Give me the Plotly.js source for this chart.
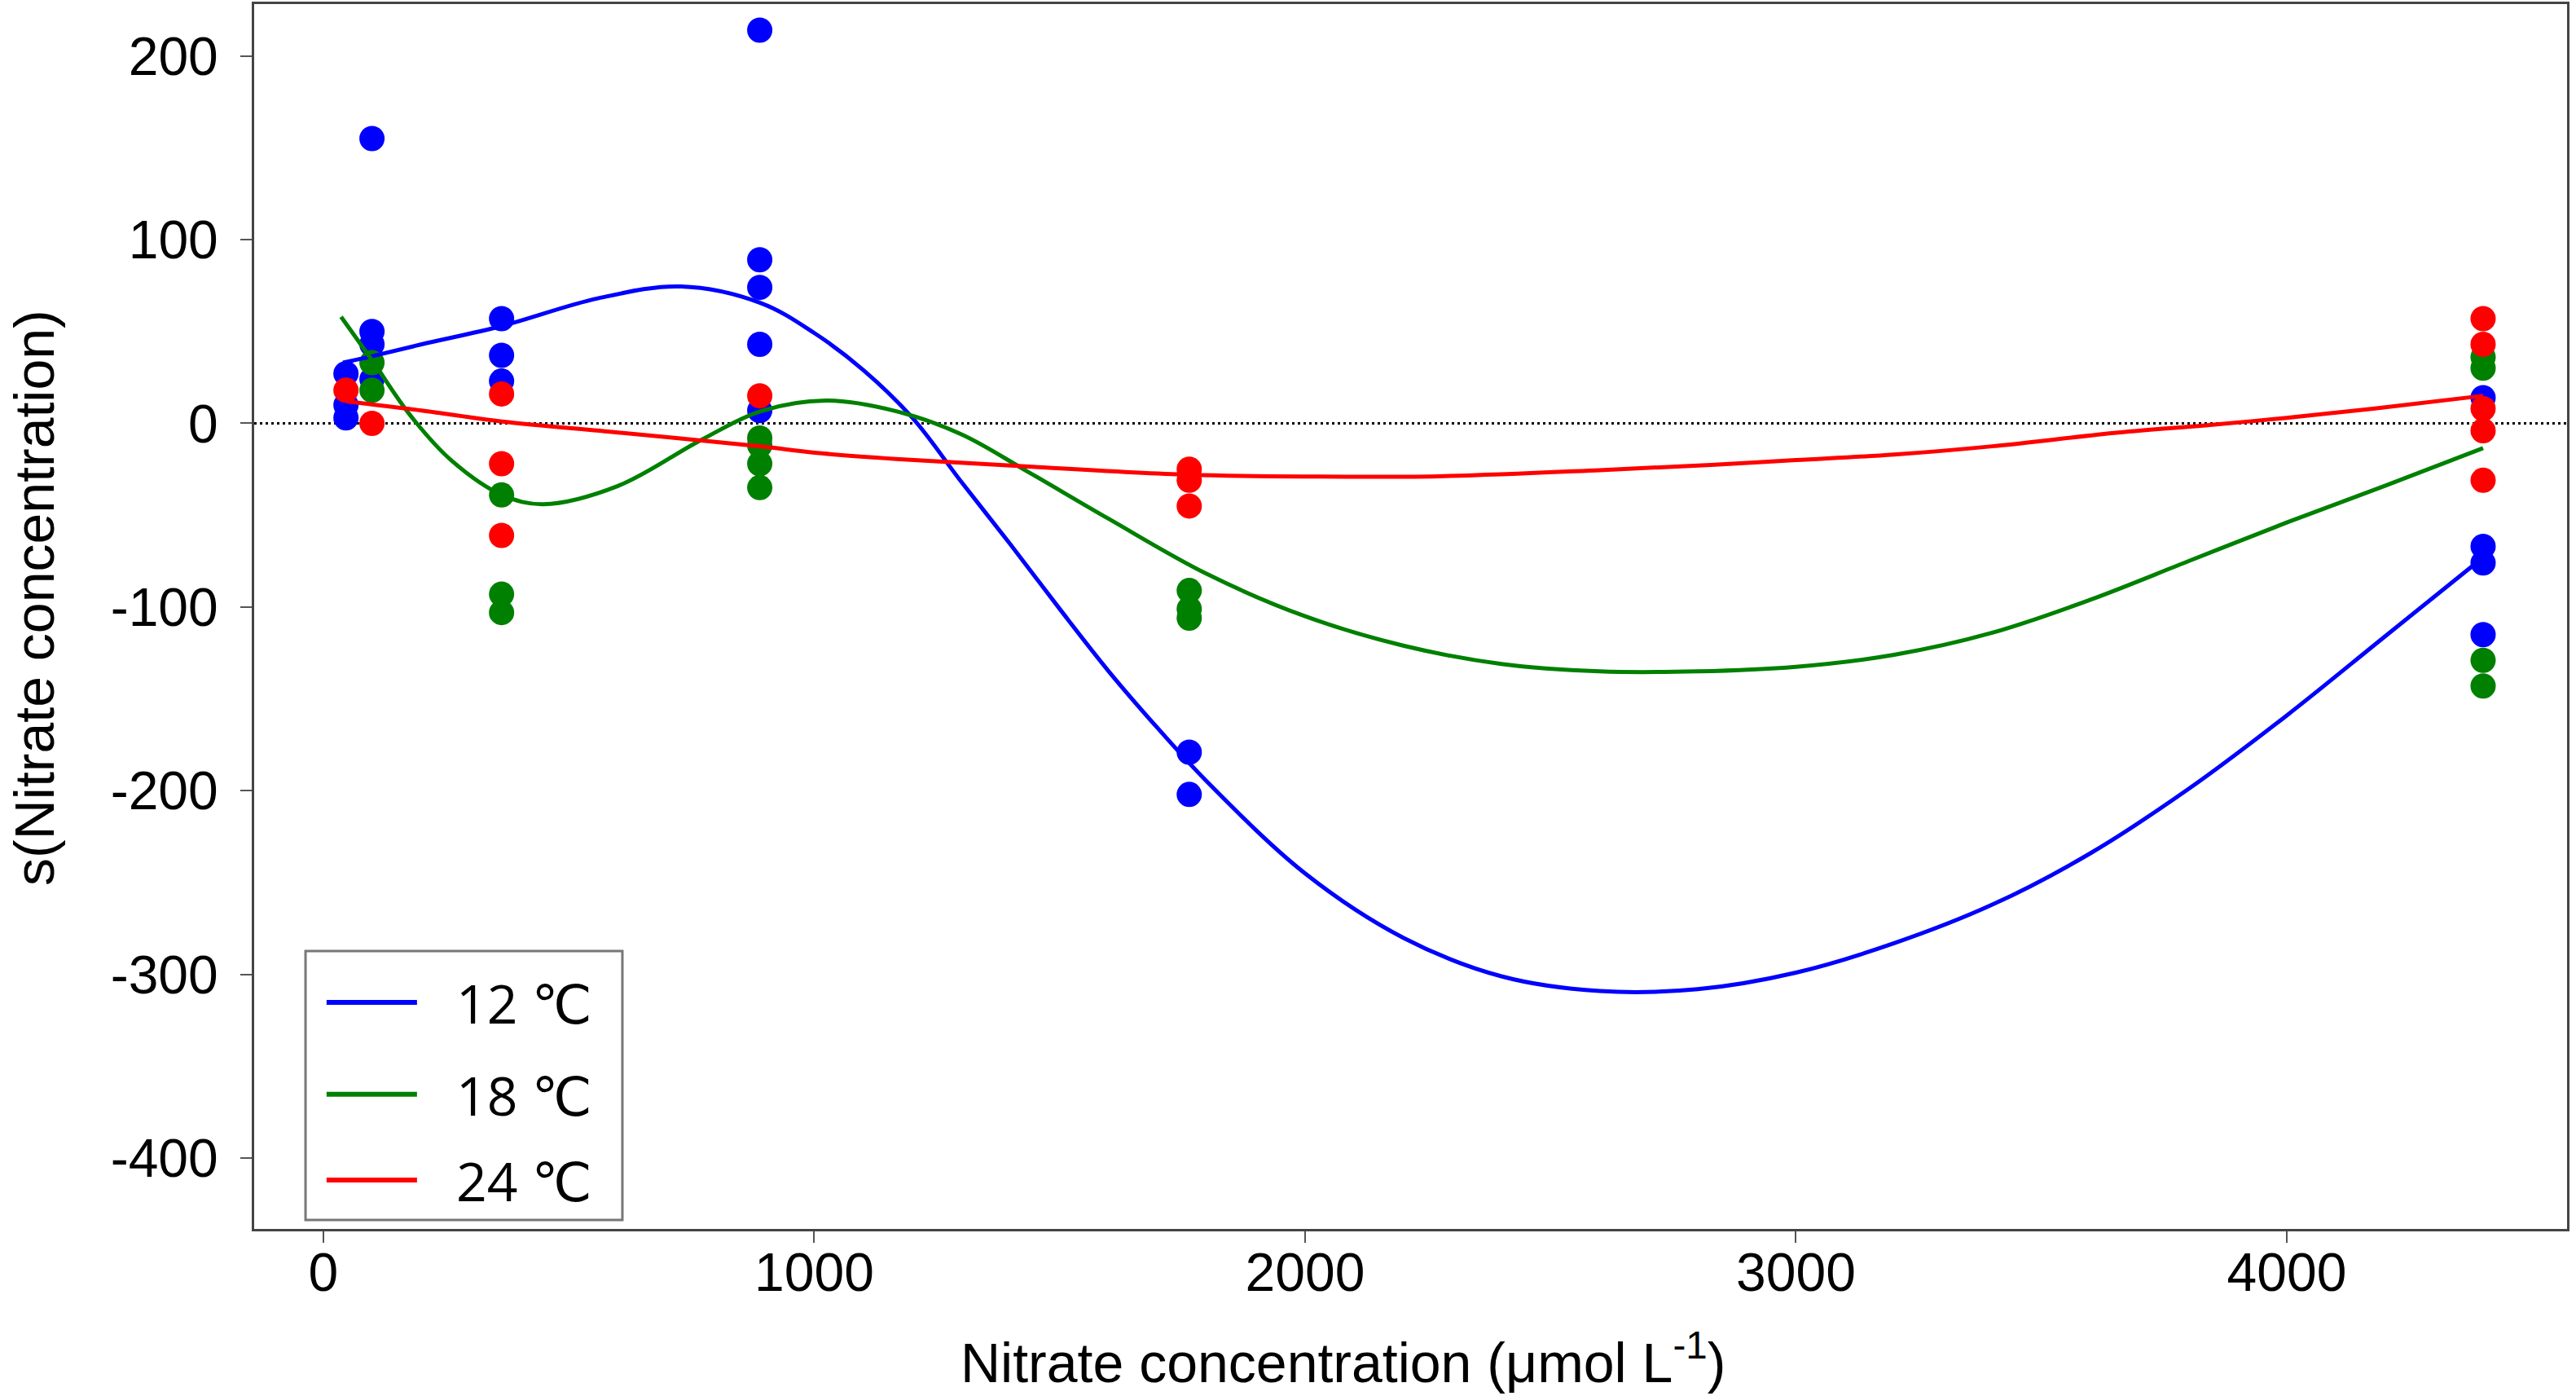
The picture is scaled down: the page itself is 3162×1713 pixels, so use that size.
<!DOCTYPE html>
<html>
<head>
<meta charset="utf-8">
<script src="https://cdn.plot.ly/plotly-3.0.1.min.js"></script>
<style>
  body { margin: 0; background: #fff; }
  #plot { width: 3162px; height: 1713px; }
</style>
</head>
<body>
<div id="plot"></div>
<script>
var x12 = [46, 46, 46, 99, 99, 99, 99, 363, 363, 363, 889, 889, 889, 889, 889, 1764, 1764, 4400, 4400, 4400, 4400];
var y12 = [27, 10, 3, 155, 50, 43, 24, 57, 37, 23, 214, 89, 74, 43, 7, -179, -202, 14, -67, -76, -115];

var x18 = [99, 99, 363, 363, 363, 889, 889, 889, 889, 1764, 1764, 1764, 4400, 4400, 4400, 4400];
var y18 = [33, 18, -39, -93, -103, -8, -12, -22, -35, -91, -101, -106, 36, 30, -129, -143];

var x24 = [46, 99, 363, 363, 363, 889, 1764, 1764, 1764, 4400, 4400, 4400, 4400, 4400];
var y24 = [18, 0, 16, -22, -61, 15, -25, -31, -45, 57, 43, 8, -4, -31];

// smooth fits
var fx12 = [40, 99, 200, 364, 559, 728, 891, 1001, 1100, 1200, 1300, 1400, 1500, 1600, 1700, 1800, 2000, 2200, 2400, 2600, 2800, 3000, 3200, 3400, 3600, 3800, 4000, 4200, 4400];
var fy12 = [33, 36.5, 43, 53, 68, 74.5, 65.5, 49, 29, 3, -32, -66, -101, -135, -166, -195, -245, -280, -301, -309, -308, -299, -283, -262, -234, -199, -159, -116, -73];

var fx18 = [36, 100, 178, 262, 364, 448, 601, 770, 891, 1024, 1167, 1300, 1433, 1600, 1800, 2000, 2200, 2400, 2600, 2800, 3000, 3200, 3400, 3600, 3800, 4000, 4200, 4400];
var fy18 = [58, 34, 4, -20.5, -39, -44, -34, -9, 6.6, 12.4, 6.6, -6, -26, -52, -82, -105, -121, -131, -135, -135, -132.5, -126, -114, -96, -75, -54, -34, -13.5];

var fx24 = [46, 200, 364, 600, 891, 1001, 1167, 1400, 1763, 2017, 2271, 2600, 2827, 3000, 3200, 3400, 3657, 3839, 4000, 4176, 4400];
var fy24 = [12, 7, 1, -5, -12.6, -16, -19.4, -23, -28, -29, -28.8, -25.5, -22.6, -20, -17, -12.5, -5, -1, 3, 8, 15];

var names = ["12 \u2103", "18 \u2103", "24 \u2103"];
var blue = "#0000ff";
var green = "#008000";
var red = "#ff0000";

var yticks = [-400, -300, -200, -100, 0, 100, 200];
var yticklabels = ["-400", "-300", "-200", "-100", "0", "100", "200"];
var xticks = [0, 1000, 2000, 3000, 4000];

function pts(x, y, c) {
    return {x: x, y: y, type: "scatter", mode: "markers",
        marker: {size: 31, color: c}, showlegend: false, hoverinfo: "none"};
}
function fit(x, y, c) {
    return {x: x, y: y, type: "scatter", mode: "lines",
        line: {color: c, width: 5, shape: "spline", smoothing: 1}, showlegend: false, hoverinfo: "none"};
}

var traces = [
    pts(x12, y12, blue), pts(x18, y18, green), pts(x24, y24, red),
    fit(fx12, fy12, blue), fit(fx18, fy18, green), fit(fx24, fy24, red)
];

var tickFont = {family: "Liberation Sans, Arial, sans-serif", size: 66, color: "#000"};

// hand-made legend box like the original
var legY = [0.185, 0.110, 0.040];
var legCol = [blue, green, red];
var shapes = [
    {type: "line", xref: "paper", x0: 0, x1: 1, yref: "y", y0: 0, y1: 0,
        line: {color: "#000", width: 3, dash: "3px,4px"}, layer: "below"},
    {type: "rect", xref: "paper", yref: "paper", x0: 0.0222, x1: 0.1592, y0: 0.0073, y1: 0.2269,
        line: {color: "#777", width: 3}, fillcolor: "#fff", layer: "above"}
];
var annotations = [
    {xref: "paper", yref: "paper", x: 0.4706, y: -0.106, xanchor: "center", yanchor: "middle",
        text: "Nitrate concentration (\u03bcmol L<sup>-1</sup>)", showarrow: false,
        font: {family: "Liberation Sans, Arial, sans-serif", size: 68, color: "#000"}},
    {xref: "paper", yref: "paper", x: -0.0951, y: 0.515, xanchor: "center", yanchor: "middle",
        textangle: -90, text: "s(Nitrate concentration)", showarrow: false,
        font: {family: "Liberation Sans, Arial, sans-serif", size: 68, color: "#000"}}
];
for (var i = 0; i < 3; i++) {
    shapes.push({type: "line", xref: "paper", yref: "paper", x0: 0.0313, x1: 0.0704, y0: legY[i], y1: legY[i],
        line: {color: legCol[i], width: 6}, layer: "above"});
    annotations.push({xref: "paper", yref: "paper", x: 0.0866, y: legY[i], xanchor: "left", yanchor: "middle",
        text: names[i], showarrow: false,
        font: {family: "Open Sans, DejaVu Sans, sans-serif", size: 66, color: "#000"}});
}

var layout = {
    width: 3162,
    height: 1713,
    margin: {l: 312, r: 11, t: 5, b: 205},
    paper_bgcolor: "#fff",
    plot_bgcolor: "#fff",
    showlegend: false,
    xaxis: {
        range: [-141, 4571], tickvals: xticks,
        ticks: "outside", ticklen: 14, tickwidth: 2, tickcolor: "#555",
        showline: true, mirror: true, linecolor: "#444", linewidth: 3,
        showgrid: false, zeroline: false, tickfont: tickFont, ticklabelstandoff: -20
    },
    yaxis: {
        range: [-438.5, 228.2], tickvals: yticks, ticktext: yticklabels,
        ticks: "outside", ticklen: 14, tickwidth: 2, tickcolor: "#555",
        showline: true, mirror: true, linecolor: "#444", linewidth: 3,
        showgrid: false, zeroline: false, tickfont: tickFont, ticklabelstandoff: 14
    },
    shapes: shapes,
    annotations: annotations
};

Plotly.newPlot("plot", traces, layout, {staticPlot: true});
</script>
</body>
</html>
